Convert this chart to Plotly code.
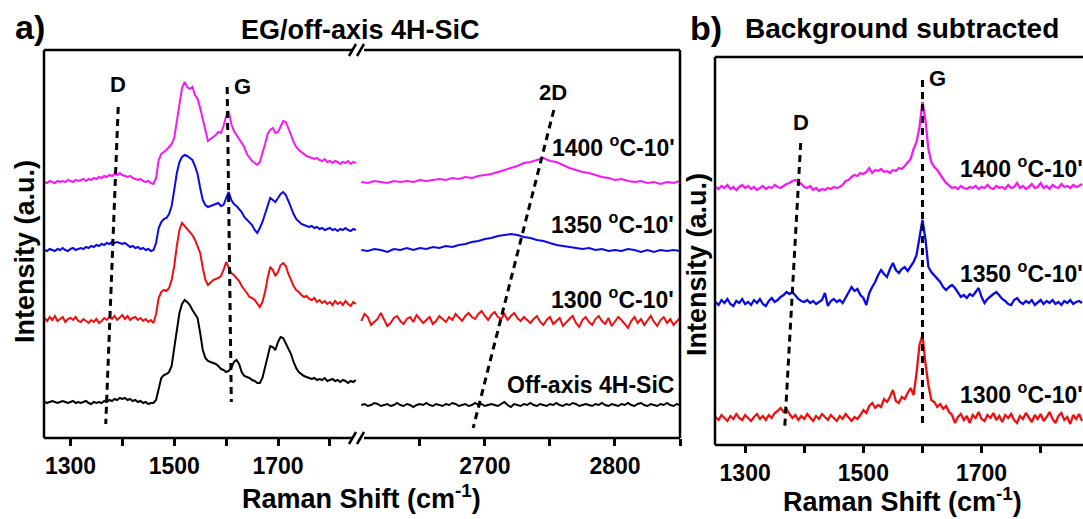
import numpy as np
import plotly.graph_objects as go

W, H = 1083, 519
FONT = "Liberation Sans, Arial, sans-serif"
STEP = 5        # cm-1 sampling of most spectra below
FINE_STEP = 2.5  # cm-1 sampling of the noisier high-shift traces

# ---------------- panel a: raw spectra, stacked (a.u.) ----------------
A_LEFT_START = 1250    # 1250 .. 1850 cm-1
A_RIGHT_START = 2605   # 2605 .. 2850 cm-1

sic_left = [
    36, 35, 36, 37, 36, 35, 36, 37, 36, 35,
    36, 37, 35, 36, 35, 36, 37, 35, 34, 36,
    35, 36, 35, 37, 36, 38, 37, 39, 38, 40,
    39, 40, 38, 39, 37, 38, 36, 37, 35, 36,
    34, 35, 35, 38, 50, 60, 63, 64, 66, 72,
    90, 108, 125, 134, 138, 136, 133, 128, 124, 120,
    105, 88, 80, 77, 76, 75, 74, 72, 69, 68,
    66, 67, 70, 76, 78, 74, 66, 62, 61, 60,
    58, 57, 55, 55, 60, 70, 82, 92, 91, 88,
    96, 101, 100, 95, 90, 84, 76, 70, 66, 64,
    62, 61, 60, 59, 60, 58, 59, 58, 60, 57,
    58, 59, 57, 58, 56, 58, 57, 55, 57, 56,
    58,
]
t1300_left = [
    120, 117, 121, 118, 122, 117, 119, 121, 116, 119,
    120, 118, 121, 117, 116, 119, 117, 115, 118, 116,
    119, 115, 117, 120, 118, 121, 119, 122, 118, 121,
    123, 119, 122, 118, 120, 121, 118, 120, 117, 119,
    116, 118, 115, 124, 140, 146, 148, 147, 150, 158,
    172, 192, 208, 215, 212, 209, 206, 203, 198, 192,
    185, 170, 158, 153, 156, 158, 159, 160, 162, 168,
    176, 170, 165, 163, 160, 157, 152, 149, 145, 141,
    140, 138, 134, 131, 136, 146, 160, 171, 168, 162,
    166, 173, 175, 172, 164, 158, 152, 148, 146, 143,
    141, 142, 139, 138, 140, 136, 138, 135, 137, 134,
    136, 133, 137, 134, 136, 133, 137, 134, 132, 136,
    134,
]
t1350_left = [
    188, 187, 189, 188, 187, 189, 188, 190, 188, 187,
    189, 190, 188, 189, 190, 189, 191, 190, 192, 191,
    193, 192, 194, 193, 195, 194, 196, 195, 196, 195,
    194, 195, 193, 191, 192, 190, 191, 189, 190, 188,
    189, 187, 188, 195, 210, 216, 219, 220, 224, 232,
    248, 265, 276, 281, 283, 282, 280, 278, 272, 264,
    250, 238, 233, 231, 232, 233, 234, 235, 232, 233,
    240, 246, 238, 234, 232, 229, 226, 221, 218, 215,
    213, 208, 205, 210, 216, 224, 232, 240, 238, 236,
    240, 244, 246, 243, 237, 230, 224, 219, 216, 214,
    213, 212, 211, 212, 210, 211, 209, 210, 208, 209,
    210, 208, 209, 207, 209, 208, 210, 208, 207, 209,
    208,
]
t1400_left = [
    256, 255, 257, 256, 255, 257, 256, 257, 256, 258,
    257, 256, 258, 257, 258, 259, 257, 259, 258, 260,
    259, 261, 260, 262, 261, 263, 262, 264, 263, 265,
    263, 262, 261, 262, 260, 259, 258, 259, 257, 256,
    257, 255, 254, 260, 278, 284, 286, 288, 291, 294,
    300, 318, 336, 350, 356, 351, 349, 351, 343, 339,
    330, 318, 306, 297, 299, 301, 303, 306, 305, 312,
    322, 327, 314, 307, 303, 299, 295, 291, 284, 280,
    277, 275, 273, 276, 284, 294, 304, 308, 310, 305,
    306, 312, 317, 316, 310, 303, 296, 291, 288, 286,
    284, 282, 281, 280, 279, 280, 278, 277, 279, 276,
    277, 275, 277, 276, 274, 276, 275, 277, 274, 276,
    275,
]

# 2605 .. 2850 cm-1 at FINE_STEP
sic_right = [
    33, 34, 32, 33, 35, 34, 32, 33, 34, 32,
    33, 35, 33, 32, 34, 33, 31, 33, 34, 33,
    35, 33, 32, 34, 33, 32, 34, 33, 35, 34,
    32, 33, 34, 32, 33, 35, 33, 34, 32, 33,
    34, 33, 32, 34, 36, 33, 31, 34, 33, 32,
    34, 33, 35, 33, 32, 34, 33, 32, 34, 33,
    35, 33, 32, 34, 33, 35, 34, 32, 33, 34,
    33, 32, 34, 33, 35, 33, 32, 34, 33, 32,
    34, 33, 35, 33, 32, 34, 35, 33, 32, 34,
    33, 32, 34, 33, 35, 33, 32, 34, 33,
]
t1300_right = [
    117, 124, 121, 113, 116, 119, 125, 118, 112, 115,
    120, 122, 117, 114, 119, 121, 116, 123, 119, 115,
    118, 121, 114, 117, 122, 119, 116, 121, 118, 124,
    120, 117, 122, 125, 121, 119, 124, 127, 122, 118,
    123, 126, 121, 119, 124, 118, 122, 125, 120, 117,
    121, 118, 115, 119, 122, 116, 113, 118, 121, 114,
    117, 120, 112, 116, 119, 122, 115, 111, 118, 121,
    116, 113, 119, 122, 117, 114, 120, 112, 116, 121,
    118, 114, 110, 117, 121, 115, 119, 113, 117, 122,
    116, 112, 118, 121, 115, 119, 113, 117, 120,
]
# 2605 .. 2850 cm-1 at STEP
t1350_right = [
    188, 187, 189, 188, 186, 189, 188, 190, 188, 190,
    189, 191, 190, 192, 191, 193, 194, 196, 197, 199,
    200, 202, 203, 204, 203, 201, 200, 198, 197, 195,
    193, 192, 191, 190, 189, 190, 188, 189, 187, 188,
    187, 189, 188, 186, 188, 186, 188, 187, 188, 187,
]
t1400_right = [
    256, 255, 257, 256, 255, 257, 256, 257, 256, 258,
    257, 258, 259, 258, 260, 259, 261, 260, 262, 263,
    264, 266, 268, 270, 272, 275, 276, 278, 280, 277,
    276, 273, 270, 268, 266, 265, 263, 261, 260, 258,
    259, 257, 256, 257, 255, 256, 254, 256, 255, 257,
]

# ---------------- panel b: background subtracted (a.u.) ----------------
B_START = 1250  # 1250 .. 1870 cm-1

b1400 = [
    258, 256, 259, 257, 260, 256, 258, 255, 258, 260,
    257, 259, 256, 258, 255, 257, 259, 256, 258, 257,
    260, 258, 257, 259, 261, 262, 264, 265, 263, 261,
    258, 257, 259, 255, 257, 254, 256, 255, 257, 256,
    258, 257, 258, 260, 264, 265, 268, 270, 269, 272,
    271, 273, 277, 272, 275, 274, 276, 273, 274, 272,
    275, 274, 277, 276, 279, 282, 286, 296, 303, 318,
    343, 325, 296, 283, 278, 275, 270, 266, 262, 259,
    257, 258, 256, 259, 257, 256, 258, 257, 259, 256,
    258, 257, 260, 257, 256, 259, 257, 258, 256, 260,
    257, 258, 262, 257, 259, 256, 258, 261, 257, 258,
    262, 257, 259, 256, 260, 258, 257, 261, 258, 259,
    257, 260, 258, 259, 261,
]
b1350 = [
    143, 140, 145, 142, 146, 141, 139, 144, 142, 146,
    141, 143, 140, 145, 142, 146, 141, 139, 144, 147,
    143, 145, 148, 150, 153, 151, 153, 149, 146, 144,
    143, 145, 142, 144, 141, 143, 145, 152, 139, 144,
    146, 143, 145, 142, 147, 153, 158, 154, 156, 150,
    147, 140, 152, 158, 163, 170, 175, 171, 168, 176,
    182, 175, 172, 176, 178, 174, 179, 183, 190, 208,
    225, 206, 178, 173, 170, 166, 163, 158, 155, 158,
    160, 157, 152, 148, 150, 147, 151, 149, 153, 157,
    148, 142, 146, 149, 151, 153, 149, 146, 144, 141,
    140, 145, 147, 143, 141, 144, 142, 145, 140, 143,
    145, 141, 144, 142, 145, 141, 143, 140, 144, 142,
    145, 141, 143, 144, 142,
]
b1300 = [
    28, 25, 30, 27, 24, 29, 26, 31, 27, 25,
    30, 27, 24, 28, 31, 26, 29, 25, 30, 27,
    32, 34, 37, 33, 36, 31, 27, 30, 25, 29,
    26, 31, 27, 24, 29, 26, 31, 28, 25, 30,
    27, 24, 29, 26, 31, 27, 24, 28, 26, 30,
    35, 32, 39, 42, 37, 40, 38, 46, 43, 48,
    55, 44, 42, 48, 46, 52, 57, 50, 72, 100,
    110, 82, 60, 45, 43, 38, 41, 36, 39, 33,
    30, 22, 28, 31, 25, 29, 22, 30, 27, 33,
    26, 24, 30, 27, 32, 25, 29, 23, 30, 27,
    31, 25, 22, 29, 26, 32, 27, 23, 30, 26,
    31, 24, 28, 33, 26, 22, 29, 32, 25, 28,
    21, 30, 26, 31, 24,
]

# peak-position guide lines (cm-1, a.u.)
a_D_x, a_D_y = [1392, 1368], [331, 14]
a_G_x, a_G_y = [1602, 1610], [351, 36]
a_2D_x, a_2D_y = [2753, 2691], [328, 10]
b_D_x, b_D_y = [1394, 1367], [302, 18]
b_G_x, b_G_y = [1600, 1600], [365, 22]

MAGENTA, BLUE, RED, BLACK = "#F21CF2", "#0A0AE6", "#EE1010", "#000000"


def grid(start, values, step=STEP):
    return start + step * np.arange(len(values))


def px(x):
    return x / W


def py(y):
    return 1 - y / H


fig = go.Figure()

panel_a = [
    (sic_left, sic_right, FINE_STEP, BLACK),
    (t1300_left, t1300_right, FINE_STEP, RED),
    (t1350_left, t1350_right, STEP, BLUE),
    (t1400_left, t1400_right, STEP, MAGENTA),
]
for left, right, rstep, color in panel_a:
    fig.add_trace(go.Scatter(x=grid(A_LEFT_START, left), y=left, mode="lines",
                             line=dict(color=color, width=2), xaxis="x", yaxis="y"))
    fig.add_trace(go.Scatter(x=grid(A_RIGHT_START, right, rstep), y=right, mode="lines",
                             line=dict(color=color, width=2), xaxis="x2", yaxis="y"))

for vals, color in [(b1300, RED), (b1350, BLUE), (b1400, MAGENTA)]:
    fig.add_trace(go.Scatter(x=grid(B_START, vals), y=vals, mode="lines",
                             line=dict(color=color, width=2.3), xaxis="x3", yaxis="y2"))

DASH = dict(color="black", width=3, dash="7px,5px")
for xs, ys, xa, ya in [(a_D_x, a_D_y, "x", "y"), (a_G_x, a_G_y, "x", "y"),
                       (a_2D_x, a_2D_y, "x2", "y"), (b_D_x, b_D_y, "x3", "y2"),
                       (b_G_x, b_G_y, "x3", "y2")]:
    fig.add_trace(go.Scatter(x=xs, y=ys, mode="lines", line=DASH, xaxis=xa, yaxis=ya))

tickfont = dict(family=FONT, size=23, color="black", weight="bold")
xcommon = dict(ticks="outside", ticklen=7, tickwidth=2.5, tickcolor="black",
               showline=False, showgrid=False, zeroline=False, tickfont=tickfont,
               tickmode="array", fixedrange=True)
ycommon = dict(showline=False, showgrid=False, zeroline=False, showticklabels=False,
               ticks="", range=[0, 388], fixedrange=True)

fig.update_layout(
    width=W, height=H, margin=dict(l=0, r=0, t=0, b=0),
    paper_bgcolor="white", plot_bgcolor="white", showlegend=False,
    font=dict(family=FONT, color="black"),
    xaxis=dict(domain=[px(44), px(360)], range=[1249, 1858], anchor="y",
               tickvals=[1300, 1400, 1500, 1600, 1700, 1800],
               ticktext=["1300", "", "1500", "", "1700", ""], **xcommon),
    xaxis2=dict(domain=[px(360), px(680)], range=[2604, 2850], anchor="y",
                tickvals=[2650, 2700, 2750, 2800, 2850],
                ticktext=["", "2700", "", "2800", ""], **xcommon),
    xaxis3=dict(domain=[px(715), 1.0], range=[1249, 1871.6], anchor="y2",
                tickvals=[1300, 1400, 1500, 1600, 1700, 1800],
                ticktext=["1300", "", "1500", "", "1700", ""], **xcommon),
    yaxis=dict(domain=[py(438), py(50)], anchor="x", **ycommon),
    yaxis2=dict(domain=[py(445), py(57)], anchor="x3", **ycommon),
)

# frame lines (pixel positions converted to paper fractions)
LW = 2.5
segments = [
    # panel a box with a break at the axis split
    (44, 50, 44, 438), (680, 50, 680, 438),
    (44, 50, 353, 50), (364, 50, 680, 50),
    (44, 438, 353, 438), (364, 438, 680, 438),
    (349, 56, 356, 44), (357, 56, 364, 44),
    (349, 444, 356, 432), (357, 444, 364, 432),
    # panel b box (open to the right)
    (715, 57, 715, 445), (715, 57, 1083, 57), (715, 445, 1083, 445),
]
for x0, y0, x1, y1 in segments:
    fig.add_shape(type="line", xref="paper", yref="paper",
                  x0=px(x0), y0=py(y0), x1=px(x1), y1=py(y1),
                  line=dict(color="black", width=LW))


def label(text, x, y, size, xanchor="center", angle=0):
    fig.add_annotation(text=f"<b>{text}</b>", x=px(x), y=py(y), xref="paper", yref="paper",
                       xanchor=xanchor, yanchor="middle", showarrow=False, textangle=angle,
                       font=dict(family=FONT, size=size, color="black"))


label("a)", 30, 27, 34)
label("EG/off-axis 4H-SiC", 360, 30, 27)
label("b)", 706, 28, 34)
label("Background subtracted", 902, 28, 28)

label("D", 118, 85, 22)
label("G", 242, 87, 22)
label("2D", 553, 92, 22)
label("G", 937, 78, 22)
label("D", 801, 122, 22)

label("1400 <sup>o</sup>C-10'", 677, 146, 23, xanchor="right")
label("1350 <sup>o</sup>C-10'", 676, 223, 23, xanchor="right")
label("1300 <sup>o</sup>C-10'", 676, 298, 23, xanchor="right")
label("Off-axis 4H-SiC", 676, 385, 23, xanchor="right")

label("1400 <sup>o</sup>C-10'", 958, 167, 23, xanchor="left")
label("1350 <sup>o</sup>C-10'", 958, 272, 23, xanchor="left")
label("1300 <sup>o</sup>C-10'", 958, 393, 23, xanchor="left")

label("Raman Shift (cm<sup>-1</sup>)", 362, 497, 27)
label("Raman Shift (cm<sup>-1</sup>)", 902, 500, 27)
label("Intensity (a.u.)", 25, 252, 27, angle=-90)
label("Intensity (a.u.)", 697, 265, 27, angle=-90)

fig.write_html("out.html")
